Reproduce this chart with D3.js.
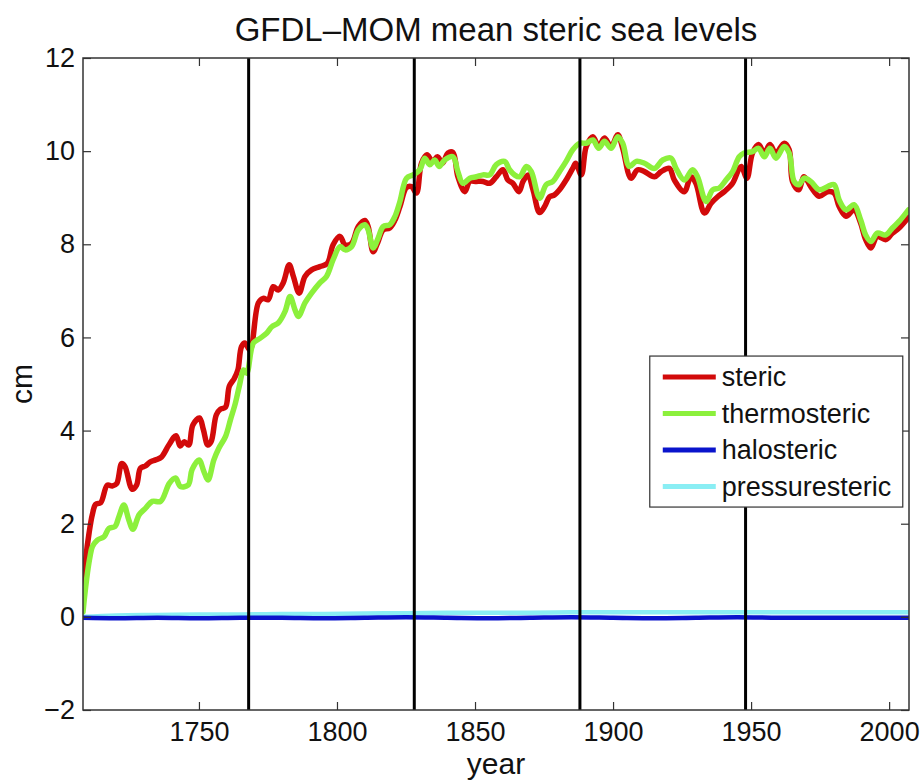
<!DOCTYPE html>
<html>
<head>
<meta charset="utf-8">
<script src="https://cdn.jsdelivr.net/npm/d3@7"></script>
<style>
  body { margin: 0; background: #fff; }
  text { font-family: "Liberation Sans", Arial, sans-serif; fill: #111; }
</style>
</head>
<body>
<div id="chart"></div>
<script>
const stericYears = [1708,1709,1710.2,1711.4,1712.6,1714.4,1716.8,1718.6,1720.2,1722,1723.2,1725.8,1727.4,1728.8,1730.6,1732.4,1734.3,1736.4,1739.1,1741.7,1743.2,1744.7,1746.3,1747.8,1750.2,1751.6,1753.2,1754.4,1756.3,1757.8,1759.6,1761,1762.8,1764.1,1765.4,1766.6,1768.5,1771.5,1773.3,1775.1,1776.9,1778.7,1780.5,1782.7,1784.2,1786.3,1788.4,1790.8,1793.8,1796.5,1798.6,1801.1,1802.9,1805.3,1807.7,1810.1,1811.3,1813.1,1814.9,1816.7,1819.1,1821,1822.8,1825.2,1827,1828.8,1830.6,1832.6,1834.6,1836.4,1838.2,1840.2,1842,1843.8,1846.3,1848.1,1850.5,1852.9,1855.3,1857.7,1860.1,1861.9,1863.7,1865.9,1867.4,1869.2,1871,1873.4,1875.2,1877,1878.8,1880.6,1883,1885.4,1886.5,1888.5,1890.3,1892.7,1894.8,1896.9,1899.3,1901.7,1903.5,1906.5,1908.9,1911.4,1915,1917.4,1920.4,1922.2,1925.8,1928.2,1930,1933.1,1935.5,1937.9,1940.3,1943.3,1945.7,1946.5,1948.5,1950.5,1952.7,1954.8,1956.8,1959,1962,1963.8,1965,1967.2,1969.2,1971.6,1974.7,1977.7,1980.1,1981.9,1984.4,1987.3,1989.7,1991.5,1993.4,1995.7,1998.8,2001.2,2003.6,2007];
const stericValues = [0.55,1.25,1.80,2.20,2.42,2.45,2.83,2.81,2.86,3.29,3.23,2.74,2.83,3.19,3.24,3.33,3.37,3.43,3.69,3.89,3.67,3.76,3.69,4.12,4.27,4.02,3.69,3.76,4.34,4.46,4.50,4.95,5.12,5.30,5.80,5.88,5.73,6.74,6.84,6.81,7.09,7.02,7.17,7.56,7.31,6.95,7.31,7.45,7.52,7.59,7.99,8.17,7.99,8.02,8.38,8.51,8.38,7.84,8.06,8.31,8.35,8.52,8.81,9.22,9.24,9.10,9.74,9.92,9.78,9.88,9.74,9.96,9.97,9.45,9.13,9.35,9.35,9.35,9.31,9.45,9.60,9.38,9.31,9.13,9.35,9.49,9.17,8.68,8.81,9.02,9.06,9.17,9.38,9.63,9.74,9.49,10.10,10.31,10.10,10.28,10.10,10.35,10.06,9.42,9.60,9.56,9.45,9.56,9.63,9.38,9.13,9.45,9.31,8.67,8.88,9.02,9.13,9.31,9.63,9.67,9.42,9.96,10.14,9.96,10.14,9.96,10.17,10.03,9.35,9.17,9.45,9.24,9.03,9.13,9.10,8.81,8.60,8.74,8.45,8.10,7.92,8.17,8.10,8.24,8.35,8.58];

const thermoYears = [1708,1708.6,1709.6,1710.5,1711.4,1713.2,1715.6,1717.4,1719.6,1721,1722.8,1724.6,1726.1,1728.3,1730.6,1733.1,1736.1,1739.3,1741.5,1743.3,1746.1,1747.5,1750,1751.8,1753.3,1755.4,1757.2,1759.6,1761.4,1763.2,1764.6,1766.2,1767.3,1769.7,1772.1,1774.5,1776.4,1778.7,1781.2,1783,1784.8,1786,1788.4,1790.8,1793.8,1796.2,1798.6,1801.1,1802.9,1805.3,1807.7,1810.1,1811.3,1813.1,1814.9,1816.7,1819.1,1821,1822.8,1825.2,1827.6,1830,1831.8,1833.6,1835.4,1837,1839,1842,1843.8,1845.6,1848.1,1850.5,1852.9,1855.3,1857.7,1860.7,1862.5,1864.3,1866.2,1868.6,1870.4,1873.4,1875.8,1878.2,1880.6,1883,1885.4,1887.9,1890.3,1892.7,1894.8,1896.9,1899.3,1901.7,1903.5,1905.9,1908.4,1911.4,1915,1918,1921,1922.8,1925.8,1928.8,1930.6,1933.7,1936.1,1938.5,1940.9,1943.3,1945.7,1947.5,1950.5,1952.7,1954.8,1956.8,1959,1962,1963.8,1965.6,1967.4,1969.2,1971.6,1974.7,1977.7,1980.1,1981.9,1984.4,1987.3,1989.7,1991.5,1993.4,1995.7,1998.8,2001.2,2003.6,2007];
const thermoValues = [0.10,0.45,0.94,1.28,1.51,1.65,1.72,1.90,1.94,2.15,2.40,2.08,1.88,2.19,2.33,2.48,2.48,2.87,2.98,2.80,2.83,3.16,3.37,3.12,2.94,3.37,3.62,3.87,4.23,4.59,4.95,5.30,5.23,5.88,5.98,6.09,6.23,6.31,6.56,6.88,6.59,6.45,6.74,6.95,7.17,7.31,7.67,7.95,7.88,7.95,8.31,8.42,8.31,7.92,8.13,8.38,8.42,8.60,8.92,9.42,9.49,9.60,9.85,9.71,9.81,9.67,9.81,9.88,9.56,9.31,9.42,9.45,9.49,9.49,9.71,9.78,9.60,9.49,9.45,9.67,9.56,8.99,9.28,9.35,9.56,9.78,10.03,10.17,10.17,10.24,10.06,10.21,10.06,10.31,10.17,9.67,9.78,9.74,9.63,9.81,9.85,9.63,9.38,9.60,9.45,8.92,9.17,9.21,9.38,9.56,9.88,9.96,9.99,10.06,9.88,10.06,9.85,10.10,9.96,9.35,9.28,9.42,9.35,9.17,9.24,9.28,8.95,8.74,8.85,8.52,8.20,8.06,8.24,8.20,8.35,8.49,8.74];

const smallYears = [1708,1720,1735,1750,1765,1780,1795,1810,1825,1840,1855,1870,1885,1900,1915,1930,1945,1960,1975,1990,2007];
const haloValues = [-0.02,-0.03,-0.02,-0.03,-0.02,-0.02,-0.03,-0.02,-0.01,-0.02,-0.03,-0.02,-0.01,-0.02,-0.03,-0.02,-0.01,-0.02,-0.02,-0.02,-0.02];
const pressureValues = [0.00,0.03,0.04,0.05,0.05,0.06,0.06,0.07,0.08,0.09,0.09,0.09,0.10,0.10,0.10,0.10,0.10,0.10,0.10,0.10,0.10];

const markerYears = [1768, 1828, 1888, 1948];
const xTicks = [1750, 1800, 1850, 1900, 1950, 2000];
const yTicks = [-2, 0, 2, 4, 6, 8, 10, 12];

const seriesNames = ["steric", "thermosteric", "halosteric", "pressuresteric"];
const seriesColors = ["#d20a0a", "#8cf03c", "#0a14cc", "#8aeef4"];

const margin = {top: 58, right: 12, bottom: 70, left: 83},
    width = 921 - margin.left - margin.right,
    height = 780 - margin.top - margin.bottom;

const svg = d3.select("#chart").append("svg")
    .attr("width", 921)
    .attr("height", 780);

const g = svg.append("g")
    .attr("transform", `translate(${margin.left}, ${margin.top})`);

const x = d3.scaleLinear().domain([1708, 2007.2]).range([0, width]);
const y = d3.scaleLinear().domain([-2, 12]).range([height, 0]);

g.append("clipPath").attr("id", "clip")
  .append("rect").attr("width", width).attr("height", height);

const line = d3.line()
    .curve(d3.curveCatmullRom.alpha(0.5))
    .x(d => x(d[0])).y(d => y(d[1]));

const series = [
    d3.zip(stericYears, stericValues),
    d3.zip(thermoYears, thermoValues),
    d3.zip(smallYears, haloValues),
    d3.zip(smallYears, pressureValues)
];

// drawing order: cyan under blue
const order = [0, 1, 3, 2];
const plot = g.append("g").attr("clip-path", "url(#clip)");
order.forEach(i => {
    plot.append("path")
        .datum(series[i])
        .attr("fill", "none")
        .attr("stroke", seriesColors[i])
        .attr("stroke-width", i < 2 ? 5.5 : 4.5)
        .attr("stroke-linejoin", "round")
        .attr("stroke-linecap", "round")
        .attr("d", line);
});

plot.selectAll(".marker")
    .data(markerYears)
    .enter().append("line")
    .attr("x1", d => x(d)).attr("x2", d => x(d))
    .attr("y1", 0).attr("y2", height)
    .attr("stroke", "#000")
    .attr("stroke-width", 3);

// axes (box with inward ticks)
const tickLen = 8;
const axisColor = "#333";
const styleAxis = sel => {
    sel.select(".domain").remove();
    sel.selectAll("line").attr("stroke", axisColor).attr("stroke-width", 1.2);
    sel.selectAll("text").style("font-size", "27px").attr("fill", "#111");
};

g.append("g")
    .attr("transform", `translate(0, ${height})`)
    .call(d3.axisBottom(x).tickValues(xTicks).tickFormat(d3.format("d")).tickSizeInner(-tickLen).tickPadding(12))
    .call(styleAxis);

g.append("g")
    .call(d3.axisTop(x).tickValues(xTicks).tickSizeInner(-tickLen).tickFormat(""))
    .call(styleAxis);

g.append("g")
    .call(d3.axisLeft(y).tickValues(yTicks).tickFormat(d => d < 0 ? "\u2212" + Math.abs(d) : d).tickSizeInner(-tickLen).tickPadding(8))
    .call(styleAxis);

g.append("g")
    .attr("transform", `translate(${width}, 0)`)
    .call(d3.axisRight(y).tickValues(yTicks).tickSizeInner(-tickLen).tickFormat(""))
    .call(styleAxis);

g.append("rect")
    .attr("width", width).attr("height", height)
    .attr("fill", "none").attr("stroke", axisColor).attr("stroke-width", 1.5);

// legend
const legend = g.append("g").attr("transform", `translate(${x(1913.3)}, ${y(5.6)})`);
legend.append("rect")
    .attr("width", 253).attr("height", 151)
    .attr("fill", "#fff").attr("stroke", axisColor).attr("stroke-width", 1.2);
seriesNames.forEach((name, i) => {
    const ly = 21 + i * 36.5;
    legend.append("line")
        .attr("x1", 13).attr("x2", 66).attr("y1", ly).attr("y2", ly)
        .attr("stroke", seriesColors[i]).attr("stroke-width", 5);
    legend.append("text")
        .attr("x", 72).attr("y", ly)
        .attr("dy", "0.35em")
        .style("font-size", "27px")
        .text(name);
});

// titles
svg.append("text")
    .attr("x", margin.left + width / 2).attr("y", 41)
    .attr("text-anchor", "middle")
    .style("font-size", "33px")
    .text("GFDL\u2013MOM mean steric sea levels");

svg.append("text")
    .attr("x", margin.left + width / 2).attr("y", 774)
    .attr("text-anchor", "middle")
    .style("font-size", "30px")
    .text("year");

svg.append("text")
    .attr("transform", `translate(32, ${margin.top + height / 2}) rotate(-90)`)
    .attr("text-anchor", "middle")
    .style("font-size", "30px")
    .text("cm");
</script>
</body>
</html>
